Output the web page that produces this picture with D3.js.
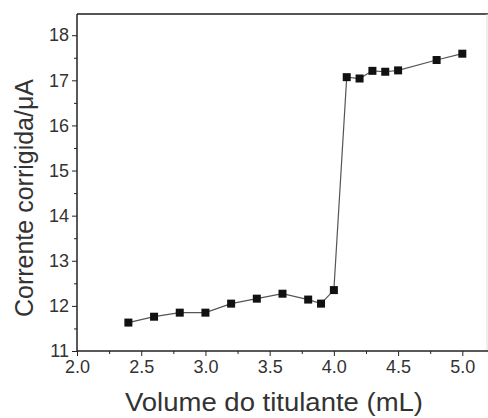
<!DOCTYPE html>
<html>
<head>
<meta charset="utf-8">
<script src="https://cdn.jsdelivr.net/npm/d3@7"></script>
<style>
  body { margin: 0; background: #fff; }
  .axis text { font-family: "Liberation Sans", Arial, sans-serif; font-size: 18px; fill: #333; }
  .axis path, .axis line { stroke: #222; }
  .label { font-family: "Liberation Sans", Arial, sans-serif; font-size: 25px; fill: #333; }
</style>
</head>
<body>
<div id="chart"></div>
<script>
// titration data
var volume  = [2.4, 2.6, 2.8, 3.0, 3.2, 3.4, 3.6, 3.8, 3.9, 4.0, 4.1, 4.2, 4.3, 4.4, 4.5, 4.8, 5.0];
var current = [11.63, 11.76, 11.85, 11.85, 12.05, 12.16, 12.27, 12.14, 12.05, 12.35, 17.07, 17.04, 17.21, 17.19, 17.22, 17.45, 17.59];
var xTicks = [2.0, 2.5, 3.0, 3.5, 4.0, 4.5, 5.0];
var yTicks = [11, 12, 13, 14, 15, 16, 17, 18];

var W = 488, H = 418;
var margin = {top: 14, right: 0, bottom: 67, left: 77},
    width = W - margin.left - margin.right,
    height = H - margin.top - margin.bottom;

var svg = d3.select("#chart").append("svg")
    .attr("width", W)
    .attr("height", H)
    .append("g")
    .attr("transform", "translate(" + margin.left + "," + margin.top + ")");

var x = d3.scaleLinear().domain([2.0, 5.2]).range([0, width]);
var y = d3.scaleLinear().domain([11, 18.47]).range([height, 0]);

var data = volume.map(function(v, i) { return {v: v, c: current[i]}; });

// frame: top and right
svg.append("line")
    .attr("x1", 0).attr("x2", width)
    .attr("y1", 0).attr("y2", 0)
    .attr("stroke", "#555").attr("stroke-width", 2);
svg.append("line")
    .attr("x1", width - 1).attr("x2", width - 1)
    .attr("y1", 0).attr("y2", height)
    .attr("stroke", "#ddd").attr("stroke-width", 1);

// minor ticks
svg.append("g")
    .attr("class", "axis")
    .attr("transform", "translate(0," + height + ")")
    .call(d3.axisBottom(x).tickValues(d3.range(2.25, 5.2, 0.5)).tickSize(3).tickFormat(""))
    .select(".domain").remove();
svg.append("g")
    .attr("class", "axis")
    .call(d3.axisLeft(y).tickValues(d3.range(11.5, 18.4, 1)).tickSize(3).tickFormat(""))
    .select(".domain").remove();

// major axes
svg.append("g")
    .attr("class", "x axis")
    .attr("transform", "translate(0," + height + ")")
    .call(d3.axisBottom(x).tickValues(xTicks).tickSize(5).tickPadding(4).tickFormat(d3.format(".1f")))
    .call(function(g) { g.select(".domain").attr("d", "M0,0H" + width).attr("stroke-width", 1.5); });

svg.append("g")
    .attr("class", "y axis")
    .call(d3.axisLeft(y).tickValues(yTicks).tickSize(5).tickPadding(3))
    .call(function(g) { g.select(".domain").attr("d", "M0," + height + "V0").attr("stroke-width", 1.5); });

// line
svg.append("path")
    .datum(data)
    .attr("fill", "none")
    .attr("stroke", "#555")
    .attr("stroke-width", 1.2)
    .attr("d", d3.line().x(function(d) { return x(d.v); }).y(function(d) { return y(d.c); }));

// square markers
var s = 8;
svg.selectAll(".pt")
    .data(data)
    .enter().append("rect")
    .attr("class", "pt")
    .attr("x", function(d) { return x(d.v) - s / 2; })
    .attr("y", function(d) { return y(d.c) - s / 2; })
    .attr("width", s)
    .attr("height", s)
    .attr("fill", "#111");

// axis labels
svg.append("text")
    .attr("class", "label")
    .attr("x", 274 - margin.left)
    .attr("y", 411 - margin.top)
    .attr("text-anchor", "middle")
    .attr("textLength", 298)
    .attr("lengthAdjust", "spacingAndGlyphs")
    .text("Volume do titulante (mL)");

svg.append("text")
    .attr("class", "label")
    .attr("transform", "rotate(-90)")
    .attr("x", -(198 - margin.top))
    .attr("y", 33 - margin.left)
    .attr("text-anchor", "middle")
    .text("Corrente corrigida/μA");
</script>
</body>
</html>
